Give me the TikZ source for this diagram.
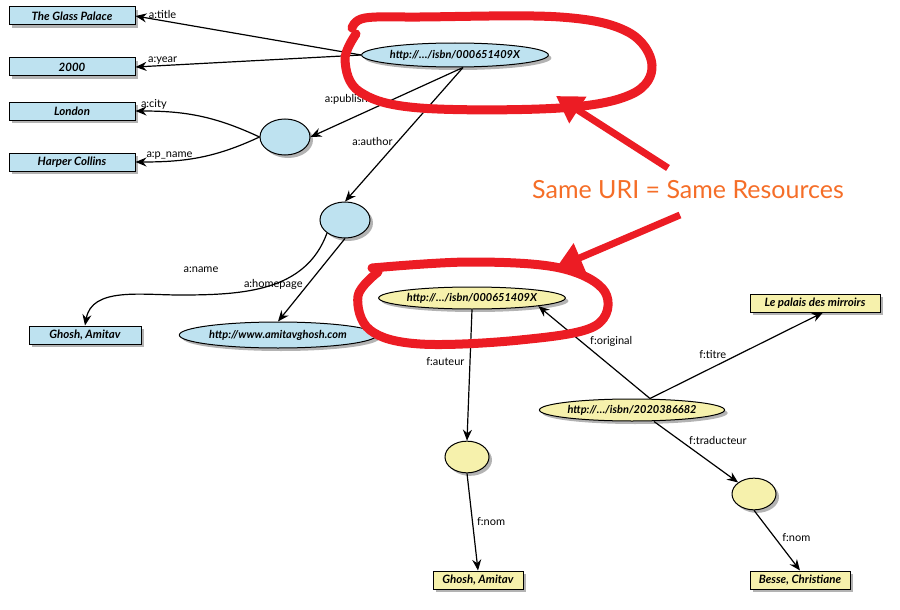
\documentclass[tikz,border=0pt]{standalone}
\usepackage{fontspec}
\setmainfont{Lato}
\usetikzlibrary{shapes.geometric,shadows,arrows.meta}

\definecolor{rdfblue}{RGB}{190,226,240}
\definecolor{rdfyellow}{RGB}{246,241,172}
\definecolor{markred}{RGB}{236,28,36}
\definecolor{noteorange}{RGB}{245,110,40}

\tikzset{
  lit/.style={draw, line width=1pt, minimum width=#1, minimum height=18pt, inner sep=1pt,
    font=\bfseries\itshape\fontsize{11.5}{13}\selectfont,
    drop shadow={shadow xshift=3pt, shadow yshift=-3pt, opacity=.6}},
  res/.style={draw, line width=1pt, ellipse, inner sep=1pt,
    font=\bfseries\itshape\fontsize{11}{13}\selectfont,
    drop shadow={shadow xshift=3pt, shadow yshift=-3pt, opacity=.6}},
  blank/.style={draw, line width=1pt, ellipse, minimum width=#1, minimum height=0.72*#1,
    drop shadow={shadow xshift=3pt, shadow yshift=-3pt, opacity=.6}},
  prop/.style={-{Stealth[length=11pt,width=9pt]}, line width=1.2pt},
  lbl/.style={font=\fontsize{11}{13}\selectfont, inner sep=1pt},
  scribble/.style={markred, line width=9pt, line cap=round, line join=round},
}

\begin{document}
\begin{tikzpicture}[x=1pt, y=-1pt]
\path[use as bounding box] (0,0) rectangle (900,610);

% the English description
\node[lit=126pt, fill=rdfblue] (glass)  at (72,16)  {The Glass Palace};
\node[lit=126pt, fill=rdfblue] (year)   at (72,67)  {2000};
\node[lit=126pt, fill=rdfblue] (london) at (72,111) {London};
\node[lit=126pt, fill=rdfblue] (harper) at (72,162) {Harper Collins};
\node[res, fill=rdfblue, minimum width=180pt, minimum height=24pt] (book) at (455,55) {http://\dots/isbn/000651409X};
\node[blank=50pt, fill=rdfblue] (publ) at (285,137) {};
\node[blank=50pt, fill=rdfblue] (auth) at (345,220) {};
\node[lit=112pt, fill=rdfblue] (name1) at (85,335) {Ghosh, Amitav};
\node[res, fill=rdfblue, minimum width=185pt, minimum height=26pt] (home) at (278,335) {http://www.amitavghosh.com};

\draw[prop] (book.west) -- (glass.east) node[lbl, pos=.88, above] {a:title};
\draw[prop] (book.west) -- (year.east)  node[lbl, pos=.88, above] {a:year};
\draw[prop] ([xshift=8pt]book.south) -- (publ.east) node[lbl, pos=.55, above left] {a:publisher};
\draw[prop] ([xshift=8pt]book.south) -- (auth.north) node[lbl, pos=.55, left=4pt] {a:author};
\draw[prop] (publ.west) to[out=155, in=0] node[lbl, pos=.87, above] {a:city} (london.east);
\draw[prop] (publ.west) to[out=205, in=0] node[lbl, pos=.75, above] {a:p\_name} (harper.east);
\draw[prop] (auth.south west) to[out=250, in=0] (180,295) to[out=180, in=80] (name1.north);
\node[lbl] at (201,270) {a:name};
\draw[prop] (auth.south) -- (home.north) node[lbl, pos=.55, left=4pt] {a:homepage};

% the French description
\node[res, fill=rdfyellow, minimum width=170pt, minimum height=22pt] (livre) at (472,298) {http://\dots/isbn/000651409X};
\node[lit=130pt, fill=rdfyellow] (palais) at (815,303) {Le palais des mirroirs};
\node[res, fill=rdfyellow, minimum width=135pt, minimum height=22pt] (trad) at (632,410) {http://\dots/isbn/2020386682};
\node[blank=44pt, fill=rdfyellow] (aut) at (467,457) {};
\node[blank=44pt, fill=rdfyellow] (tra) at (754,494) {};
\node[lit=90pt, fill=rdfyellow] (name2) at (478,580) {Ghosh, Amitav};
\node[lit=100pt, fill=rdfyellow] (besse) at (800,580) {Besse, Christiane};

\draw[prop] (livre.south) -- (aut.north) node[lbl, pos=.4, left=4pt] {f:auteur};
\draw[prop] ([xshift=18pt]trad.north) -- (livre.south east) node[lbl, pos=.55, above right] {f:original};
\draw[prop] ([xshift=18pt]trad.north) -- ([xshift=8pt]palais.south) node[lbl, pos=.45, above left] {f:titre};
\draw[prop] ([xshift=22pt]trad.south) -- (tra.north west) node[lbl, pos=.4, above right] {f:traducteur};
\draw[prop] (aut.south) -- (name2.north) node[lbl, pos=.5, right=3pt] {f:nom};
\draw[prop] (tra.south) -- (besse.north) node[lbl, pos=.45, right=6pt] {f:nom};

% hand drawn remark
\draw[scribble] plot[smooth, tension=.6] coordinates {(352,28) (365,18) (420,17) (560,17) (628,32) (652,65) (632,94) (560,108) (420,108) (360,92) (345,60) (356,34)};
\draw[scribble] plot[smooth, tension=.6] coordinates {(372,268) (470,262) (560,268) (605,292) (595,326) (520,340) (420,344) (370,330) (358,296) (378,272)};
\draw[scribble, line width=7pt, line cap=butt, -{Triangle[length=26pt, width=30pt]}] (668,168) -- (556,96);
\draw[scribble, line width=7pt, line cap=butt, -{Triangle[length=26pt, width=30pt]}] (680,215) -- (556,268);
\node[text=noteorange, font=\fontsize{25}{28}\selectfont] (note) at (688,190) {Same URI = Same Resources};

\end{tikzpicture}
\end{document}
